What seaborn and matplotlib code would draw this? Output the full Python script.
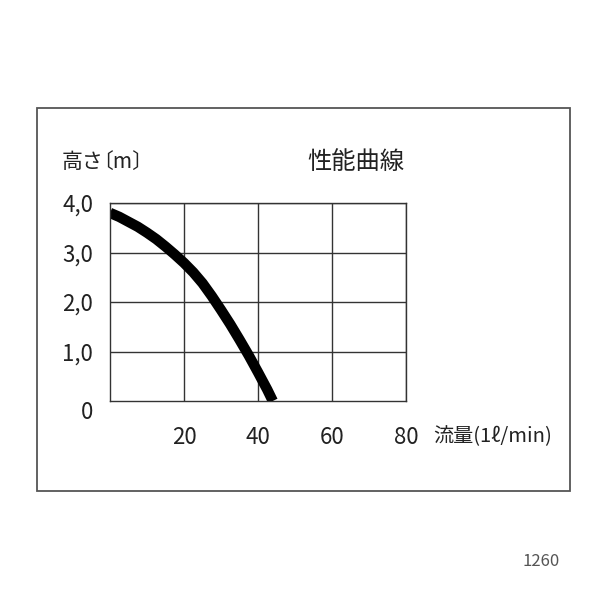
import matplotlib
matplotlib.use("Agg")
import matplotlib.pyplot as plt
import seaborn as sns
import pandas as pd
from matplotlib.patches import Rectangle

# performance curve
flow = [0, 2.5, 5, 7.5, 10, 12.5, 15, 17.5, 20, 22.5, 25, 27.5, 30,
        32.5, 35, 37.5, 40, 42.5, 44]
head = [3.80, 3.72, 3.62, 3.52, 3.40, 3.27, 3.12, 2.96, 2.79, 2.60, 2.38,
        2.12, 1.84, 1.55, 1.24, 0.92, 0.58, 0.23, 0.0]

x_ticks = [20, 40, 60, 80]
x_labels = ["20", "40", "60", "80"]
y_ticks = [1, 2, 3, 4]
y_labels = ["1,0", "2,0", "3,0", "4,0"]

df = pd.DataFrame({"flow": flow, "head": head})

sns.set_style("white")
plt.rcParams["font.family"] = ["Noto Sans CJK JP", "DejaVu Sans"]

fig = plt.figure(figsize=(6, 6), dpi=100)
ax = fig.add_axes([110 / 600, 1 - 401 / 600, 296 / 600, 198 / 600])

sns.lineplot(data=df, x="flow", y="head", ax=ax, color="black", linewidth=7.5,
             solid_capstyle="butt", solid_joinstyle="round")

ax.set_xlim(0, 80)
ax.set_ylim(0, 4)
ax.set_xticks(x_ticks)
ax.set_xticklabels(x_labels, fontsize=16, color="#222222")
ax.set_yticks(y_ticks)
ax.set_yticklabels(y_labels, fontsize=16, color="#222222")
ax.tick_params(axis="x", length=0, pad=18)
ax.tick_params(axis="y", length=0, pad=12)
ax.set_xlabel("")
ax.set_ylabel("")
ax.grid(True, color="#333333", linewidth=1.0)
for s in ax.spines.values():
    s.set_color("#333333")
    s.set_linewidth(1.0)

# zero label sits a little lower than the axis line
ax.annotate("0", xy=(0, 0), xytext=(-12, -8), textcoords="offset points",
            ha="right", va="center", fontsize=16, color="#222222",
            annotation_clip=False)

# texts
fig.text(62 / 600, 1 - 162 / 600, "高さ", fontsize=15, color="#222222",
         ha="left", va="center")
fig.text(92 / 600, 1 - 162 / 600, "〔m〕", fontsize=15, color="#222222",
         ha="left", va="center")
fig.text(307 / 600, 1 - 162 / 600, "性能曲線", fontsize=17.5, color="#222222",
         ha="left", va="center")
fig.text(433 / 600, 1 - 437 / 600, "流量(1ℓ/min)", fontsize=14.5, color="#222222",
         ha="left", va="center")
fig.text(541 / 600, 1 - 562 / 600, "1260", fontsize=12, color="#555555",
         ha="center", va="center")

# outer frame
fig.patches.append(Rectangle((37 / 600, 1 - 491 / 600), 533 / 600, 383 / 600,
                             transform=fig.transFigure, fill=False,
                             edgecolor="#555555", linewidth=1.3))

fig.savefig("out.png", dpi=100)
